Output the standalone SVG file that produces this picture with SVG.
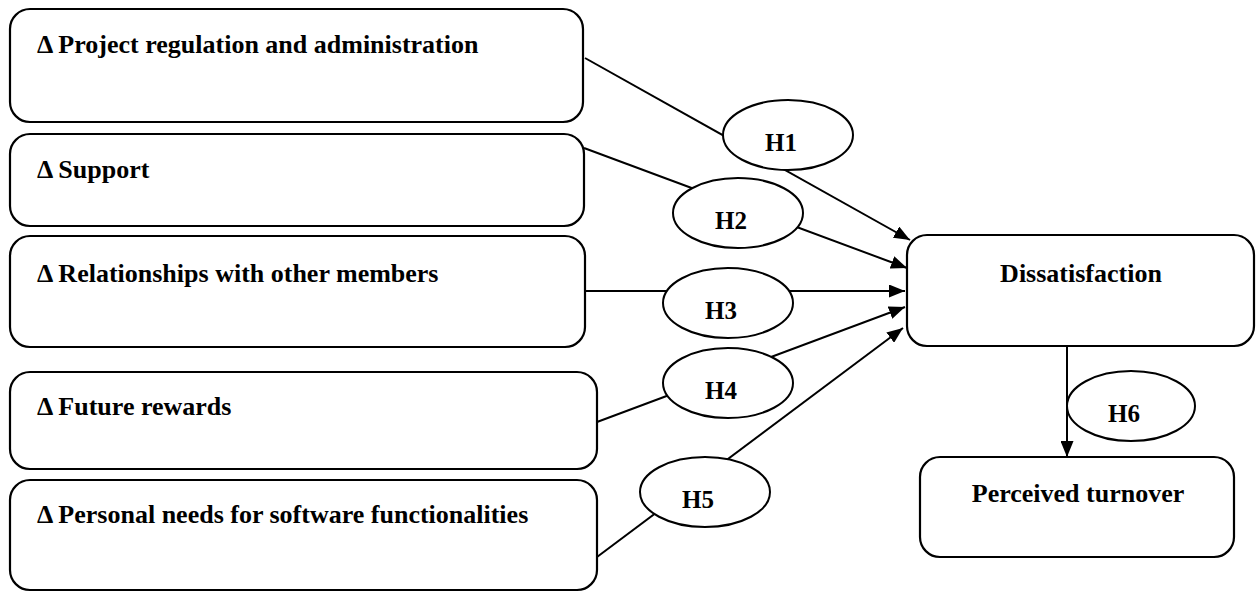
<svg xmlns="http://www.w3.org/2000/svg" width="1256" height="592" viewBox="0 0 1256 592">
<style>
.box{fill:#fff;stroke:#000;stroke-width:2.2}
.ell{fill:#fff;stroke:#000;stroke-width:2}
.t{font-family:"Liberation Serif","Times New Roman",serif;font-weight:bold;font-size:26px;fill:#000}
.h{font-family:"Liberation Serif","Times New Roman",serif;font-weight:bold;font-size:25px;fill:#000;text-anchor:middle}
.c{text-anchor:middle}
.ln{stroke:#000;stroke-width:2;fill:none;marker-end:url(#arr)}
</style>
<defs>
<marker id="arr" markerUnits="userSpaceOnUse" markerWidth="17" markerHeight="13" refX="16" refY="6.5" orient="auto">
<path d="M0,0 L16,6.5 L0,13 z" fill="#000"/>
</marker>
</defs>
<rect width="1256" height="592" fill="#fff"/>
<g id="connectors">
<line class="ln" x1="585" y1="58" x2="910" y2="240"/>
<line class="ln" x1="584" y1="148" x2="907" y2="268"/>
<line class="ln" x1="585" y1="291" x2="905" y2="291"/>
<line class="ln" x1="597" y1="422" x2="905" y2="307"/>
<line class="ln" x1="597" y1="557" x2="903" y2="328"/>
<line class="ln" x1="1067" y1="346" x2="1067" y2="457"/>
</g>
<g id="box1"><rect class="box" x="10" y="9" width="573" height="113" rx="20"/><text class="t" x="37" y="53">Δ Project regulation and administration</text></g>
<g id="box2"><rect class="box" x="10" y="134" width="574" height="92" rx="20"/><text class="t" x="37" y="178">Δ Support</text></g>
<g id="box3"><rect class="box" x="10" y="236" width="575" height="111" rx="20"/><text class="t" x="37" y="282">Δ Relationships with other members</text></g>
<g id="box4"><rect class="box" x="10" y="372" width="587" height="97" rx="20"/><text class="t" x="37" y="415">Δ Future rewards</text></g>
<g id="box5"><rect class="box" x="10" y="480" width="587" height="110" rx="20"/><text class="t" x="37" y="523">Δ Personal needs for software functionalities</text></g>
<g id="dissatisfaction"><rect class="box" x="907" y="235" width="347" height="111" rx="20"/><text class="t c" x="1081" y="282">Dissatisfaction</text></g>
<g id="turnover"><rect class="box" x="920" y="457" width="314" height="100" rx="20"/><text class="t c" x="1078" y="502">Perceived turnover</text></g>
<g id="H1"><ellipse class="ell" cx="788" cy="135" rx="65" ry="35"/><text class="h" x="781" y="151">H1</text></g>
<g id="H2"><ellipse class="ell" cx="738" cy="213" rx="65" ry="35"/><text class="h" x="731" y="229">H2</text></g>
<g id="H3"><ellipse class="ell" cx="728" cy="303" rx="65" ry="35"/><text class="h" x="721" y="319">H3</text></g>
<g id="H4"><ellipse class="ell" cx="728" cy="383" rx="65" ry="35"/><text class="h" x="721" y="399">H4</text></g>
<g id="H5"><ellipse class="ell" cx="705" cy="492" rx="65" ry="35"/><text class="h" x="698" y="508">H5</text></g>
<g id="H6"><ellipse class="ell" cx="1131" cy="406" rx="64" ry="35"/><text class="h" x="1124" y="422">H6</text></g>
</svg>
